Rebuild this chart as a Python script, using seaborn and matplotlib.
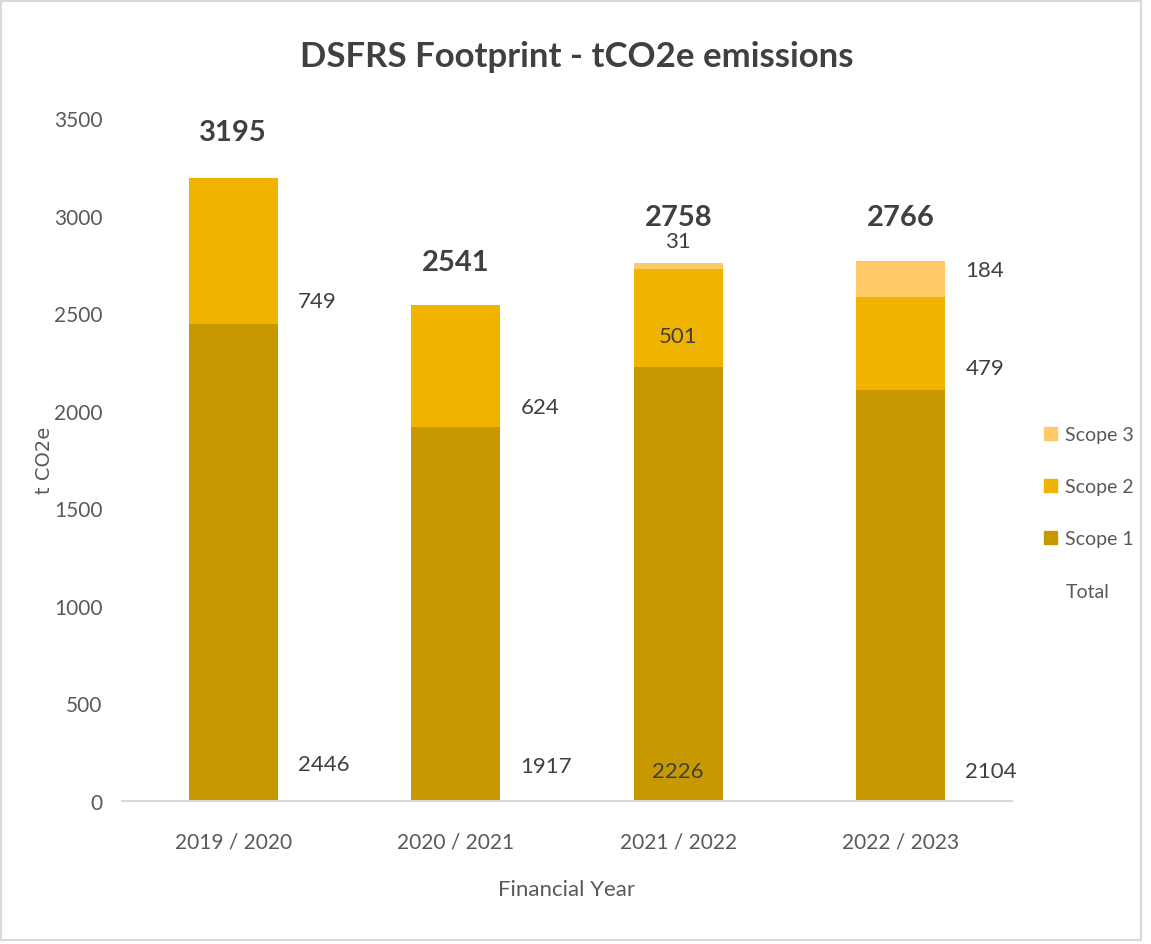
import matplotlib
matplotlib.use("Agg")
import matplotlib.pyplot as plt
from matplotlib.patches import Patch, Rectangle
import seaborn as sns
import pandas as pd

years = ["2019 / 2020", "2020 / 2021", "2021 / 2022", "2022 / 2023"]
scope1 = [2446, 1917, 2226, 2104]
scope2 = [749, 624, 501, 479]
scope3 = [0, 0, 31, 184]
totals = [3195, 2541, 2758, 2766]
yticks = [0, 500, 1000, 1500, 2000, 2500, 3000, 3500]

c1, c2, c3 = "#C89800", "#F0B400", "#FFC966"
txt = "#595959"

sns.set_theme(style="white")
plt.rcParams["font.family"] = ["Lato", "DejaVu Sans"]

fig = plt.figure(figsize=(11.51, 9.45), dpi=100)
ax = fig.add_axes([122/1151, 1-802/945, 890/1151, (802-119)/945])

df = pd.DataFrame({"year": years, "s1": scope1, "s2": scope2, "s3": scope3})
df["top3"] = df["s1"] + df["s2"] + df["s3"]
df["top2"] = df["s1"] + df["s2"]

for col, color in [("top3", c3), ("top2", c2), ("s1", c1)]:
    sns.barplot(data=df, x="year", y=col, color=color, width=0.4, ax=ax,
                saturation=1, edgecolor="none", linewidth=0)

ax.set_ylim(0, 3500)
ax.set_xlim(-0.5, 3.5)
ax.set_yticks(yticks)
ax.set_yticklabels([str(v) for v in yticks])
for s in ["top", "right", "left"]:
    ax.spines[s].set_visible(False)
ax.spines["bottom"].set_color("#D9D9D9")
ax.spines["bottom"].set_linewidth(1.5)
ax.tick_params(axis="both", length=0, labelsize=15, colors=txt, pad=14)
ax.tick_params(axis="x", pad=22)
ax.set_ylabel("t CO2e", fontsize=14, color=txt, family="DejaVu Sans", labelpad=0)
ax.set_xlabel("Financial Year", fontsize=16, color=txt, labelpad=20)

# label layout (positions only)
s1_y = [190, 180, 154, 154]
s1_x = [0.29, 0.29, 0.0, 0.29]
s2_y = [2563, 2019, 2383, 2219]
s2_x = [0.29, 0.29, 0.0, 0.29]
tot_y = [3429, 2763, 2993, 2993]

lab = "#404040"
for i in range(4):
    ha = "center" if s1_x[i] == 0 else "left"
    ax.text(i + s1_x[i], s1_y[i], str(scope1[i]), ha=ha, va="center", fontsize=16, color=lab)
    ha = "center" if s2_x[i] == 0 else "left"
    ax.text(i + s2_x[i], s2_y[i], str(scope2[i]), ha=ha, va="center", fontsize=16, color=lab)
    ax.text(i, tot_y[i], str(totals[i]), ha="center", va="center", fontsize=21,
            fontweight="bold", color=lab)
ax.text(2, 2870, str(scope3[2]), ha="center", va="center", fontsize=16, color=lab)
ax.text(3.29, 2722, str(scope3[3]), ha="left", va="center", fontsize=16, color=lab)

fig.text(577/1151, 1-57/945, "DSFRS Footprint - tCO2e emissions", ha="center", va="center",
         fontsize=25, fontweight="bold", color=lab)

handles = [Patch(color=c3), Patch(color=c2), Patch(color=c1), Patch(color="none")]
leg = fig.legend(handles, ["Scope 3", "Scope 2", "Scope 1", "Total"], loc="center left",
                 bbox_to_anchor=(1044/1151, 1-514/945), frameon=False, fontsize=14,
                 handlelength=0.65, handleheight=0.65, handletextpad=0.45, labelspacing=1.8,
                 borderaxespad=0, borderpad=0)
for t in leg.get_texts():
    t.set_color(txt)

fig.patches.append(Rectangle((1/1151, 4/945), 1140/1151, 939/945, transform=fig.transFigure,
                             fill=False, edgecolor="#D9D9D9", linewidth=1.5))

fig.savefig("out.png", dpi=100, facecolor="white")
